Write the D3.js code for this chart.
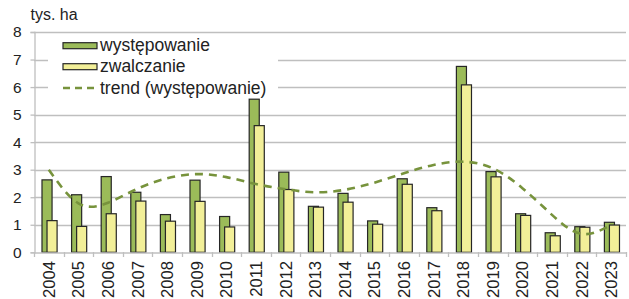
<!DOCTYPE html>
<html><head><meta charset="utf-8">
<script src="https://cdn.jsdelivr.net/npm/d3@7"></script>
<style>
html,body{margin:0;padding:0;background:#fff;}
svg{display:block;font-family:"Liberation Sans",Arial,sans-serif;}
</style></head>
<body><svg id="c" width="629" height="299"></svg>
<script>
const years = ["2004","2005","2006","2007","2008","2009","2010","2011","2012","2013","2014","2015","2016","2017","2018","2019","2020","2021","2022","2023"];
const wystepowanie = [2.63,2.09,2.75,2.18,1.37,2.62,1.30,5.56,2.91,1.67,2.14,1.14,2.67,1.62,6.75,2.93,1.40,0.71,0.93,1.09];
const zwalczanie   = [1.15,0.94,1.40,1.86,1.13,1.85,0.92,4.60,2.28,1.64,1.82,1.02,2.47,1.51,6.08,2.74,1.34,0.60,0.91,0.99];
const trend        = [3.00,1.78,1.80,2.31,2.69,2.84,2.73,2.48,2.29,2.18,2.27,2.53,2.87,3.17,3.29,3.05,2.33,1.36,0.67,1.00];
const yTicks = [0,1,2,3,4,5,6,7,8];
const unitLabel = "tys. ha";
const legendLabels = ["występowanie","zwalczanie","trend (występowanie)"];

const svg = d3.select("#c");
const pLeft = 34, pRight = 626, pTop = 32, pBottom = 252.3;
const x = d3.scaleBand().domain(years).range([pLeft, pRight]).paddingInner(0).paddingOuter(0);
const y = d3.scaleLinear().domain([0, 8]).range([pBottom, pTop]);
const bw = x.bandwidth();
const gridColor = "#bfbfbf";
const textColor = "#222";

// gridlines
svg.append("g").selectAll("line").data(yTicks.filter(d=>d>0)).join("line")
  .attr("x1", pLeft).attr("x2", pRight)
  .attr("y1", d=>Math.round(y(d))+0.5).attr("y2", d=>Math.round(y(d))+0.5)
  .attr("stroke", gridColor).attr("stroke-width", 1.3);

// y axis
const ya = svg.append("g").attr("transform", `translate(${pLeft+0.5},0)`)
  .call(d3.axisLeft(y).tickValues(yTicks).tickSize(4).tickPadding(9).tickFormat(d3.format("d")));
ya.select(".domain").attr("stroke", gridColor).attr("stroke-width",1.3);
ya.selectAll(".tick line").attr("stroke", gridColor).attr("stroke-width",1.3);
ya.selectAll(".tick text").attr("font-size", 15.5).attr("fill", textColor).attr("font-family","Liberation Sans, Arial, sans-serif");

// legend background
svg.append("rect").attr("x", 48).attr("y", 36).attr("width", 230).attr("height", 60).attr("fill", "#fff");

// bars
const g = svg.append("g");
g.selectAll("rect.a").data(years).join("rect").attr("class","a")
  .attr("x", (d)=>x(d) + bw*0.27).attr("width", bw*0.34)
  .attr("y", (d,i)=>y(wystepowanie[i])).attr("height", (d,i)=>y(0)-y(wystepowanie[i]))
  .attr("fill", "#9bbb59").attr("stroke", "#262626").attr("stroke-width", 1.2);
g.selectAll("rect.b").data(years).join("rect").attr("class","b")
  .attr("x", (d)=>x(d) + bw*0.44).attr("width", bw*0.34)
  .attr("y", (d,i)=>y(zwalczanie[i])).attr("height", (d,i)=>y(0)-y(zwalczanie[i]))
  .attr("fill", "#f2ef98").attr("stroke", "#262626").attr("stroke-width", 1.2);

// x axis
const xa = svg.append("g").attr("transform", `translate(0,${Math.round(pBottom)+0.5})`)
  .call(d3.axisBottom(x).tickSize(0).tickPadding(0));
xa.select(".domain").attr("stroke", gridColor).attr("stroke-width",1.3);
xa.selectAll(".tick text").attr("font-size", 16.6).attr("fill", textColor)
  .attr("font-family","Liberation Sans, Arial, sans-serif")
  .attr("text-anchor","end").attr("dy", null)
  .attr("transform", "translate(6,8.5) rotate(-90)");
svg.append("g").selectAll("line").data(d3.range(years.length+1)).join("line")
  .attr("x1", i=>Math.round(pLeft + i*bw)+0.5).attr("x2", i=>Math.round(pLeft + i*bw)+0.5)
  .attr("y1", Math.round(pBottom)).attr("y2", Math.round(pBottom)+5)
  .attr("stroke", gridColor).attr("stroke-width",1.3);

// trend
const line = d3.line().x((d,i)=>x(years[i])+bw/2).y(d=>y(d)).curve(d3.curveNatural);
svg.append("path").datum(trend).attr("d", line)
  .attr("fill","none").attr("stroke","#77933c").attr("stroke-width",2.6)
  .attr("stroke-dasharray","8,6");

// unit label
svg.append("text").attr("x", 30.5).attr("y", 20).attr("font-size", 16).attr("fill",textColor).text(unitLabel);

// legend
const lg = svg.append("g");
const rows = [45.7, 66.7, 88];
lg.append("rect").attr("x",63).attr("y",rows[0]-3).attr("width",34).attr("height",6)
  .attr("fill","#9bbb59").attr("stroke","#262626").attr("stroke-width",1.2);
lg.append("rect").attr("x",63).attr("y",rows[1]-3).attr("width",34).attr("height",6)
  .attr("fill","#f2ef98").attr("stroke","#262626").attr("stroke-width",1.2);
lg.append("line").attr("x1",63).attr("x2",98).attr("y1",rows[2]).attr("y2",rows[2])
  .attr("stroke","#77933c").attr("stroke-width",2.6).attr("stroke-dasharray","7,5");
lg.selectAll("text").data(legendLabels).join("text")
  .attr("x",100).attr("y",(d,i)=>rows[i]+5.5).attr("font-size",17.5).attr("fill",textColor).text(d=>d);
</script></body></html>
